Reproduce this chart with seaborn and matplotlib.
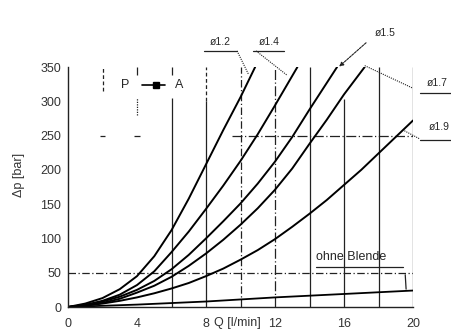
import pandas as pd
import matplotlib
matplotlib.use("Agg")
import matplotlib.pyplot as plt
import seaborn as sns

# flow Q [l/min] and pressure drop dp [bar]
q_d1 = [0, 1, 2, 3, 4, 5, 6, 7, 8, 9, 10, 10.85]
dp_d1 = [0, 5, 13, 26, 45, 74, 112, 158, 208, 258, 306, 350]

q_d2 = [0, 1, 2, 3, 4, 5, 6, 7, 8, 9, 10, 11, 12, 13.3]
dp_d2 = [0, 3, 9, 18, 32, 52, 80, 110, 143, 177, 213, 252, 294, 350]

q_d3 = [0, 1, 2, 3, 4, 5, 6, 7, 8, 9, 10, 11, 12, 13, 14, 15.6]
dp_d3 = [0, 3, 8, 15, 25, 38, 55, 76, 100, 125, 151, 180, 212, 248, 288, 350]

q_d4 = [0, 1, 2, 3, 4, 5, 6, 7, 8, 9, 10, 11, 12, 13, 14, 15, 16, 17.2]
dp_d4 = [0, 2, 6, 12, 21, 31, 44, 60, 78, 98, 120, 144, 171, 202, 238,
         273, 310, 350]

q_d5 = [0, 1, 2, 3, 4, 5, 6, 7, 8, 9, 10, 11, 12, 13, 14, 15, 16, 17, 18,
        19, 20]
dp_d5 = [0, 2, 5, 9, 14, 20, 27, 35, 45, 56, 69, 83, 99, 117, 136, 156, 178,
         200, 224, 248, 272]

q_open = [0, 4, 8, 12, 16, 20]
dp_open = [0, 3.5, 8, 14, 19, 24]

curve_names = ["ø1.2", "ø1.4", "ø1.5", "ø1.7", "ø1.9"]
x_ticks = [0, 4, 8, 12, 16, 20]
y_ticks = [0, 50, 100, 150, 200, 250, 300, 350]

sns.set_style("white")
plt.rcParams["font.family"] = ["Liberation Sans", "DejaVu Sans"]

frames = []
for name, q, dp in zip(curve_names, [q_d1, q_d2, q_d3, q_d4, q_d5],
                       [dp_d1, dp_d2, dp_d3, dp_d4, dp_d5]):
    frames.append(pd.DataFrame({"Q": q, "dp": dp, "curve": name}))
df = pd.concat(frames, ignore_index=True)
df_open = pd.DataFrame({"Q": q_open, "dp": dp_open, "curve": "ohne Blende"})

fig = plt.figure(figsize=(4.51, 3.29), dpi=100)
ax = fig.add_axes([68 / 451, 22 / 329, 345 / 451, 240 / 329])

# grid, drawn by hand because the styles differ line by line
ink = "#222222"
ax.vlines(2, 315, 350, colors=ink, lw=0.9, ls=(0, (3, 2)))
ax.vlines(4, 338, 350, colors=ink, lw=0.9)
ax.vlines(4, 280, 305, colors=ink, lw=0.9, ls=(0, (1, 1)))
ax.vlines(6, 338, 350, colors=ink, lw=0.9)
ax.vlines(6, 0, 305, colors=ink, lw=0.9)
ax.vlines(8, 300, 350, colors=ink, lw=0.9, ls=(0, (3, 2)))
ax.vlines(8, 0, 300, colors=ink, lw=0.9)
ax.vlines(10, 0, 350, colors=ink, lw=0.9, ls=(0, (6, 2, 1, 2)))
ax.vlines(12, 0, 350, colors=ink, lw=0.9, ls=(0, (8, 2, 1, 2)))
for q in [14, 18, 20]:
    ax.vlines(q, 0, 350, colors=ink, lw=0.9)
ax.vlines(16, 0, 304, colors=ink, lw=0.9)
ax.hlines(50, 0, 20, colors=ink, lw=0.9, ls=(0, (6, 2, 1, 2)))
ax.hlines(250, 9.5, 20, colors=ink, lw=0.9, ls=(0, (8, 2, 1, 2)))
for q in [2, 4]:
    ax.hlines(250, q - 0.15, q + 0.15, colors=ink, lw=0.9)

sns.lineplot(data=df, x="Q", y="dp", units="curve", estimator=None,
             color="black", lw=1.4, ax=ax, legend=False)
sns.lineplot(data=df_open, x="Q", y="dp", estimator=None,
             color="black", lw=1.3, ax=ax, legend=False)

ax.set_xlim(0, 20)
ax.set_ylim(0, 350)
ax.set_xticks(x_ticks)
ax.set_yticks(y_ticks)
ax.tick_params(length=0, labelsize=9, colors="#333333")
ax.tick_params(axis="x", pad=8)
ax.tick_params(axis="y", pad=5)
ax.spines["top"].set_visible(False)
ax.spines["right"].set_visible(False)
for s in ["left", "bottom"]:
    ax.spines[s].set_color(ink)
    ax.spines[s].set_linewidth(1.0)

ax.set_xlabel("")
ax.set_ylabel("Δp [bar]", fontsize=9, color="#333333")
ax.yaxis.set_label_coords(-0.125, 0.55)
ax.text(9.8, -0.065, "Q [l/min]", fontsize=9, color="#333333", ha="center",
        va="center", transform=ax.get_xaxis_transform())

# P -> A symbol
ax.text(3.3, 324, "P", fontsize=9, ha="center", va="center")
ax.plot([4.3, 5.6], [324, 324], color="black", lw=1.2)
ax.plot([5.1], [324], marker="s", ms=4, color="black")
ax.text(6.45, 324, "A", fontsize=9, ha="center", va="center")

# curve labels with leaders
lab = dict(fontsize=7.5, ha="center", va="center", clip_on=False)
dot = dict(color=ink, lw=0.8, ls=(0, (1, 1)), clip_on=False)
ax.text(8.85, 386, curve_names[0], **lab)
ax.plot([7.9, 9.8], [373.5, 373.5], color=ink, lw=0.9, clip_on=False)
ax.plot([9.8, 10.45], [373.5, 340], **dot)

ax.text(11.65, 386, curve_names[1], **lab)
ax.plot([10.7, 12.5], [373.5, 373.5], color=ink, lw=0.9, clip_on=False)
ax.plot([10.9, 12.7], [373.5, 338], **dot)

ax.text(18.4, 400, curve_names[2], **lab)
ax.annotate("", xy=(15.6, 348), xytext=(17.4, 388), annotation_clip=False,
            arrowprops=dict(arrowstyle="-|>", color=ink, lw=0.8,
                            ls=(0, (2, 1)), mutation_scale=6))

ax.text(21.4, 327, curve_names[3], **lab)
ax.plot([20.4, 22.2], [312, 312], color=ink, lw=0.9, clip_on=False)
ax.plot([17.2, 20.0], [352, 319], **dot)

ax.text(21.5, 262, curve_names[4], **lab)
ax.plot([20.4, 22.2], [244, 244], color=ink, lw=0.9, clip_on=False)
ax.plot([19.5, 20.4], [257, 245], **dot)

# ohne Blende label
ax.text(16.4, 73, "ohne Blende", fontsize=9, ha="center", va="center")
ax.plot([14.4, 19.4], [59, 59], color=ink, lw=0.9)
ax.plot([19.55, 19.6], [47, 26], color=ink, lw=0.9)

fig.savefig("out.png", dpi=100)
